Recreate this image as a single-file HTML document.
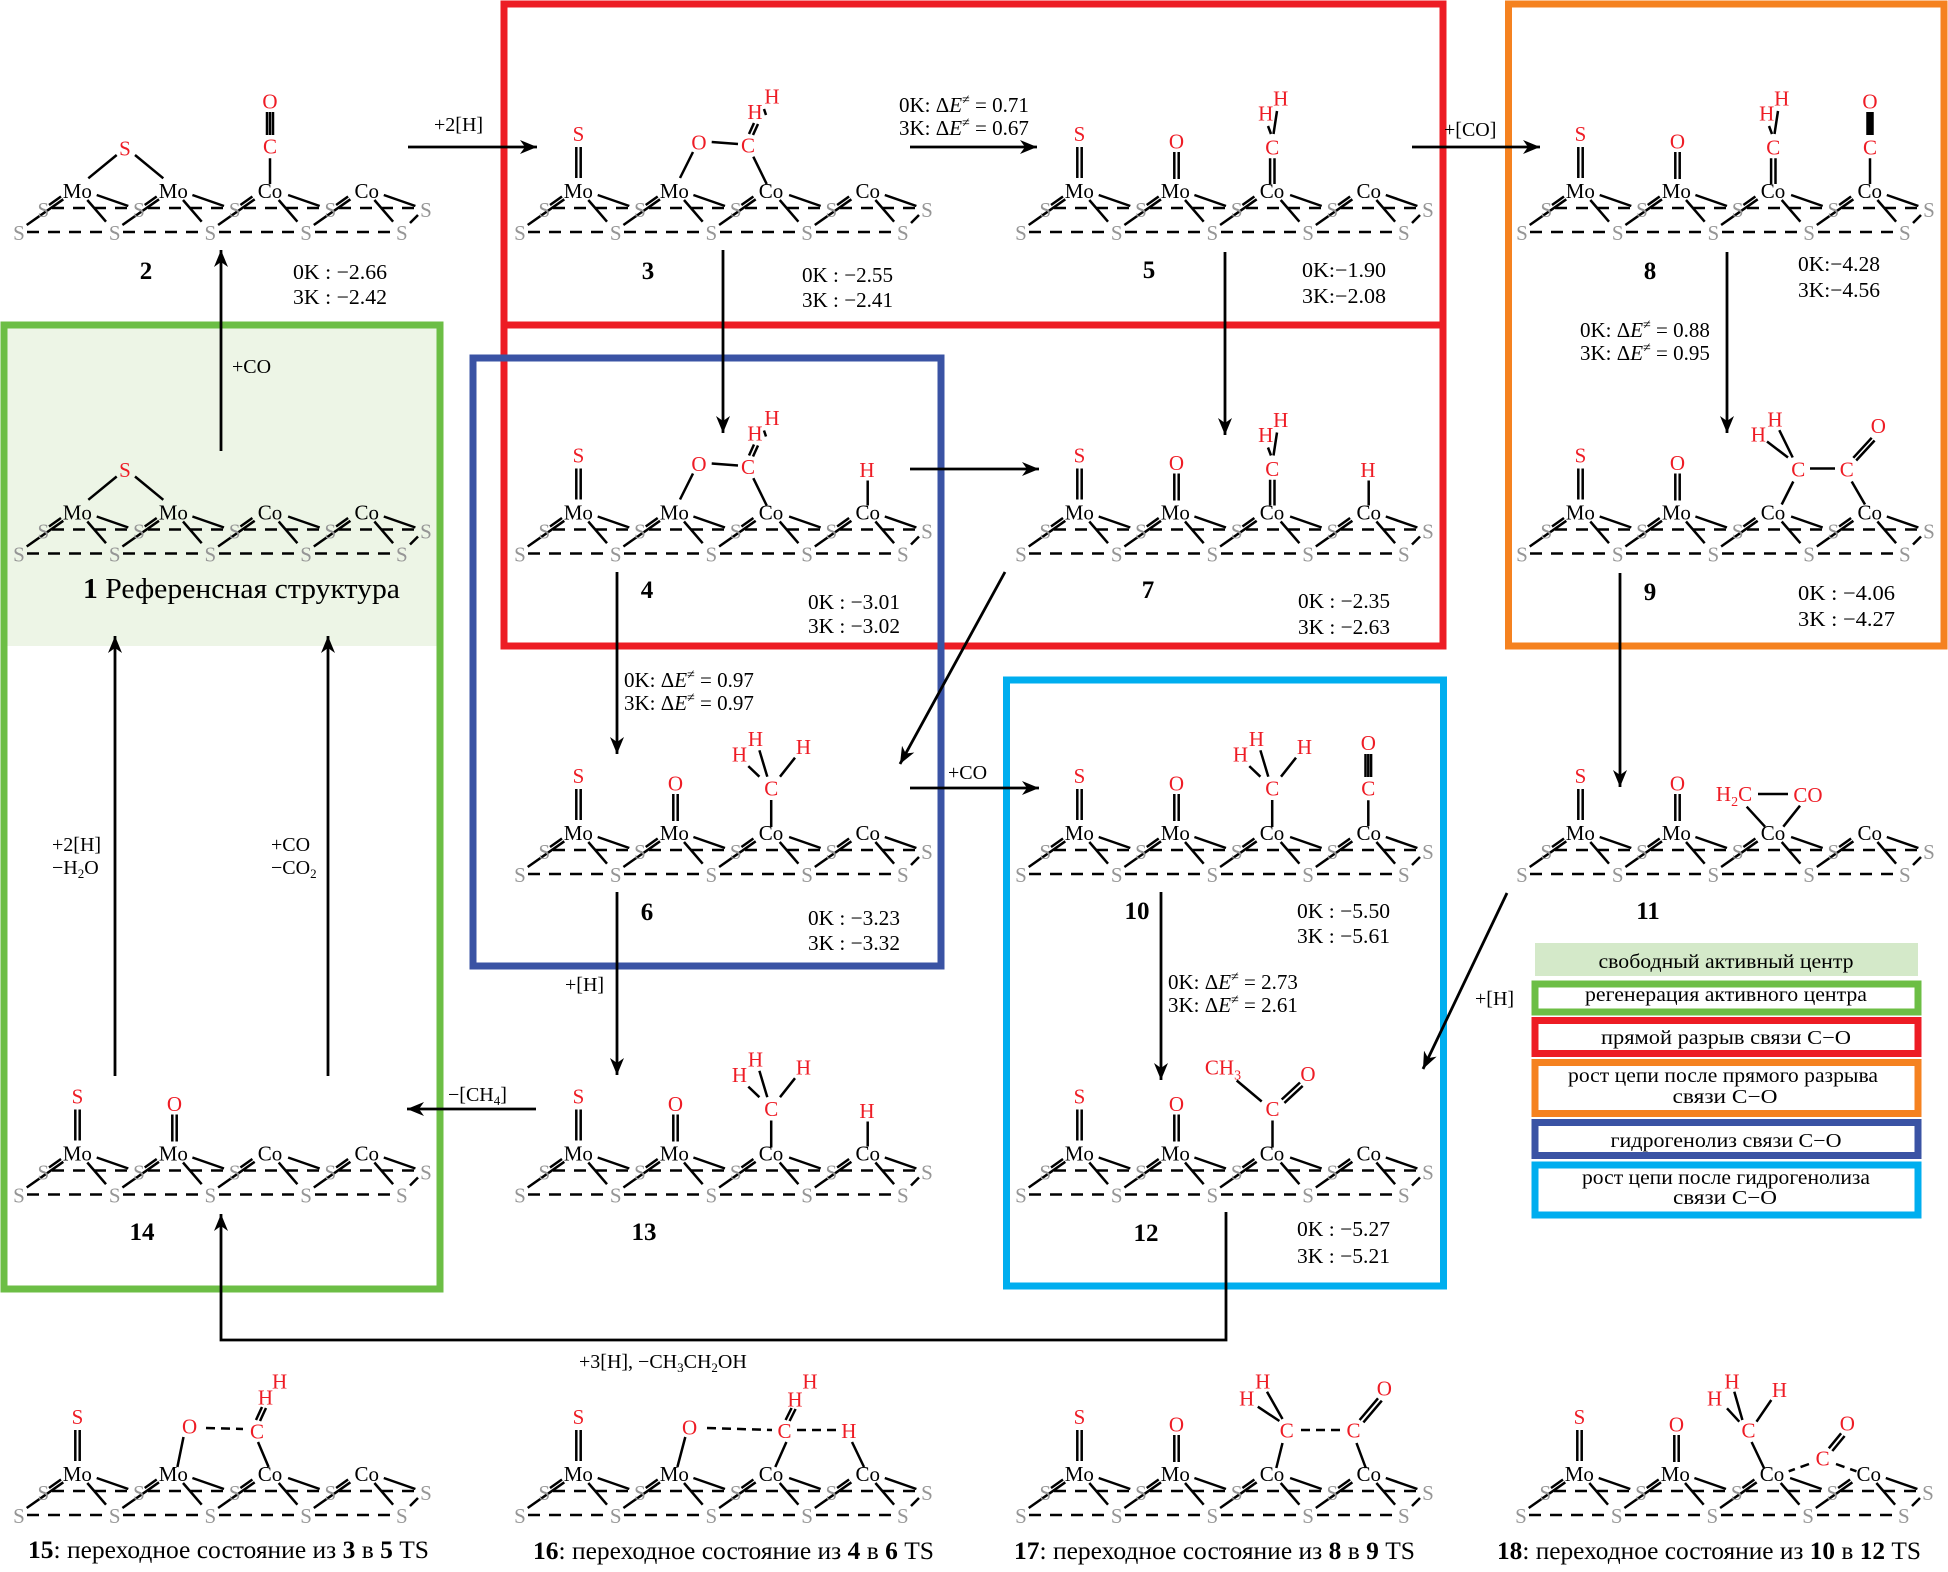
<!DOCTYPE html>
<html><head><meta charset="utf-8">
<style>
html,body{margin:0;padding:0;background:#fff;}
svg{display:block;font-family:"Liberation Serif","DejaVu Serif",serif;}
.b{stroke:#000;stroke-width:2.5;fill:none;}
.d{stroke:#000;stroke-width:2.6;fill:none;stroke-dasharray:12 9;}
.dd{stroke:#000;stroke-width:2.5;fill:none;stroke-dasharray:9 6;}
svg text{font-family:"Liberation Serif","DejaVu Serif",serif;}
.g{fill:#959595;font-size:21px;text-anchor:middle;}
.m{fill:#000;font-size:21px;text-anchor:middle;}
.r{fill:#ee1c25;font-size:21px;text-anchor:middle;}
.t{fill:#000;font-size:21px;}
.l{fill:#000;font-size:20px;}
.n{fill:#000;font-size:25px;font-weight:bold;text-anchor:middle;}
.lg{fill:#000;font-size:20px;text-anchor:middle;}
.bx{fill:none;stroke-width:7;}
</style></head><body>
<svg width="1948" height="1572" viewBox="0 0 1948 1572" xmlns="http://www.w3.org/2000/svg" font-family="'Liberation Serif', 'DejaVu Serif', serif">
<defs>
<marker id="a" markerUnits="userSpaceOnUse" markerWidth="20" markerHeight="16" refX="17" refY="8" orient="auto"><path d="M0 1L17 8L0 15L5 8Z" fill="#000" stroke="none"/></marker>
</defs>
<rect width="1948" height="1572" fill="#fff"/>
<rect x="7.5" y="328.5" width="429" height="317.5" fill="#edf5e6"/>

<!-- boxes -->
<rect class="bx" x="504" y="4" width="939" height="321" stroke="#ed1c24"/>
<rect class="bx" x="504" y="325" width="939" height="321" stroke="#ed1c24"/>
<rect class="bx" x="1508.5" y="4" width="435.5" height="642" stroke="#f58220"/>
<rect class="bx" x="4" y="325" width="436" height="964" stroke="#6cbe45"/>
<rect class="bx" x="473" y="358" width="468" height="608" stroke="#3a53a4"/>
<rect class="bx" x="1006.5" y="680" width="437" height="606" stroke="#00aeef"/>

<!-- legend -->
<rect x="1535" y="943" width="383" height="33" fill="#d4e9c9"/>
<rect x="1535" y="984" width="383" height="28" fill="#fff" stroke="#6cbe45" stroke-width="7"/>
<rect x="1535" y="1020.5" width="383" height="33" fill="#fff" stroke="#ed1c24" stroke-width="7"/>
<rect x="1535" y="1062.5" width="383" height="51" fill="#fff" stroke="#f58220" stroke-width="7"/>
<rect x="1535" y="1122.5" width="383" height="33" fill="#fff" stroke="#3a53a4" stroke-width="7"/>
<rect x="1535" y="1165" width="383" height="50" fill="#fff" stroke="#00aeef" stroke-width="7"/>
<text class="lg" x="1726" y="968" textLength="255" lengthAdjust="spacingAndGlyphs">свободный активный центр</text>
<text class="lg" x="1726" y="1001" textLength="282" lengthAdjust="spacingAndGlyphs">регенерация активного центра</text>
<text class="lg" x="1726" y="1044" textLength="250" lengthAdjust="spacingAndGlyphs">прямой разрыв связи  C−O</text>
<text class="lg" x="1723" y="1082" textLength="310" lengthAdjust="spacingAndGlyphs">рост цепи после прямого разрыва</text>
<text class="lg" x="1725" y="1103" textLength="105" lengthAdjust="spacingAndGlyphs">связи  C−O</text>
<text class="lg" x="1726" y="1147" textLength="231" lengthAdjust="spacingAndGlyphs">гидрогенолиз связи C−O</text>
<text class="lg" x="1726" y="1184" textLength="288" lengthAdjust="spacingAndGlyphs">рост цепи после гидрогенолиза</text>
<text class="lg" x="1725" y="1204" textLength="104" lengthAdjust="spacingAndGlyphs">связи  C−O</text>

<!-- ===== Row 1 ===== -->
<!-- 2 -->
<g transform="translate(19,240)">
<path class="b" d="M7.7 -15L44.3 -40.7M30 -35L42 -43.5M68.3 -40L87 -18.3M77.7 -45L109.3 -34M103.4 -15L140 -40.7M125.7 -35L137.7 -43.5M164 -40L182.7 -18.3M173.4 -45L205 -34M199.1 -15L235.7 -40.7M221.4 -35L233.4 -43.5M259.7 -40L278.4 -18.3M269.1 -45L300.7 -34M294.8 -15L331.4 -40.7M317.1 -35L329.1 -43.5M355.4 -40L374.1 -18.3M364.8 -45L396.4 -34M399 -25L391 -17"/>
<path class="d" d="M8 -8H88M104 -8H184M200 -8H280M296 -8H375M33 -32H112M129 -32H207M225 -32H303M320 -32H398"/>
<text class="g" x="0 95.7 191.4 287.1 382.8" y="0">SSSSS</text>
<text class="g" x="24.3 120 215.7 311.4 407" y="-23">SSSSS</text>
<text class="m" x="58.3" y="-42">Mo</text><text class="m" x="154.3" y="-42">Mo</text><text class="m" x="251" y="-42">Co</text><text class="m" x="347.7" y="-42">Co</text>
<path class="b" d="M69.3 -61.7L97.7 -85M116 -85L144.3 -61.7"/><text class="r" x="106" y="-84.7">S</text>
<path class="b" d="M248 -128V-105M251 -128V-105M254 -128V-105M251 -81.7V-56"/><text class="r" x="251" y="-86.3">C</text><text class="r" x="251" y="-131.3">O</text>
</g>
<!-- 3 -->
<g transform="translate(520,240)">
<path class="b" d="M7.7 -15L44.3 -40.7M30 -35L42 -43.5M68.3 -40L87 -18.3M77.7 -45L109.3 -34M103.4 -15L140 -40.7M125.7 -35L137.7 -43.5M164 -40L182.7 -18.3M173.4 -45L205 -34M199.1 -15L235.7 -40.7M221.4 -35L233.4 -43.5M259.7 -40L278.4 -18.3M269.1 -45L300.7 -34M294.8 -15L331.4 -40.7M317.1 -35L329.1 -43.5M355.4 -40L374.1 -18.3M364.8 -45L396.4 -34M399 -25L391 -17"/>
<path class="d" d="M8 -8H88M104 -8H184M200 -8H280M296 -8H375M33 -32H112M129 -32H207M225 -32H303M320 -32H398"/>
<text class="g" x="0 95.7 191.4 287.1 382.8" y="0">SSSSS</text>
<text class="g" x="24.3 120 215.7 311.4 407" y="-23">SSSSS</text>
<text class="m" x="58.3" y="-42">Mo</text><text class="m" x="154.3" y="-42">Mo</text><text class="m" x="251" y="-42">Co</text><text class="m" x="347.7" y="-42">Co</text>
<path class="b" d="M56.3 -93V-62M60.7 -93V-62"/><text class="r" x="58.5" y="-99">S</text>
<path class="b" d="M173 -88L160 -62M191.7 -98L218 -96M233.3 -83.3L246.7 -56M229 -106L234 -117M233 -105L238 -116M244 -131L246 -125"/>
<text class="r" x="179" y="-90.7">O</text><text class="r" x="228" y="-87.7">C</text><text class="r" x="235" y="-121">H</text><text class="r" x="252" y="-136.7">H</text>
</g>
<!-- 5 -->
<g transform="translate(1021,240)">
<path class="b" d="M7.7 -15L44.3 -40.7M30 -35L42 -43.5M68.3 -40L87 -18.3M77.7 -45L109.3 -34M103.4 -15L140 -40.7M125.7 -35L137.7 -43.5M164 -40L182.7 -18.3M173.4 -45L205 -34M199.1 -15L235.7 -40.7M221.4 -35L233.4 -43.5M259.7 -40L278.4 -18.3M269.1 -45L300.7 -34M294.8 -15L331.4 -40.7M317.1 -35L329.1 -43.5M355.4 -40L374.1 -18.3M364.8 -45L396.4 -34M399 -25L391 -17"/>
<path class="d" d="M8 -8H88M104 -8H184M200 -8H280M296 -8H375M33 -32H112M129 -32H207M225 -32H303M320 -32H398"/>
<text class="g" x="0 95.7 191.4 287.1 382.8" y="0">SSSSS</text>
<text class="g" x="24.3 120 215.7 311.4 407" y="-23">SSSSS</text>
<text class="m" x="58.3" y="-42">Mo</text><text class="m" x="154.3" y="-42">Mo</text><text class="m" x="251" y="-42">Co</text><text class="m" x="347.7" y="-42">Co</text>
<path class="b" d="M56.3 -93V-62M60.7 -93V-62"/><text class="r" x="58.5" y="-99">S</text>
<path class="b" d="M153.3 -88V-61M157.7 -88V-61"/><text class="r" x="155.5" y="-91.5">O</text>
<path class="b" d="M249.1 -81.7V-56M253.5 -81.7V-56M256 -129L252.5 -106M247 -114L250 -106"/>
<text class="r" x="251.3" y="-85.7">C</text><text class="r" x="244.7" y="-119.7">H</text><text class="r" x="259.7" y="-134.7">H</text>
</g>
<!-- 8 -->
<g transform="translate(1522,240)">
<path class="b" d="M7.7 -15L44.3 -40.7M30 -35L42 -43.5M68.3 -40L87 -18.3M77.7 -45L109.3 -34M103.4 -15L140 -40.7M125.7 -35L137.7 -43.5M164 -40L182.7 -18.3M173.4 -45L205 -34M199.1 -15L235.7 -40.7M221.4 -35L233.4 -43.5M259.7 -40L278.4 -18.3M269.1 -45L300.7 -34M294.8 -15L331.4 -40.7M317.1 -35L329.1 -43.5M355.4 -40L374.1 -18.3M364.8 -45L396.4 -34M399 -25L391 -17"/>
<path class="d" d="M8 -8H88M104 -8H184M200 -8H280M296 -8H375M33 -32H112M129 -32H207M225 -32H303M320 -32H398"/>
<text class="g" x="0 95.7 191.4 287.1 382.8" y="0">SSSSS</text>
<text class="g" x="24.3 120 215.7 311.4 407" y="-23">SSSSS</text>
<text class="m" x="58.3" y="-42">Mo</text><text class="m" x="154.3" y="-42">Mo</text><text class="m" x="251" y="-42">Co</text><text class="m" x="347.7" y="-42">Co</text>
<path class="b" d="M56.3 -93V-62M60.7 -93V-62"/><text class="r" x="58.5" y="-99">S</text>
<path class="b" d="M153.3 -88V-61M157.7 -88V-61"/><text class="r" x="155.5" y="-91.5">O</text>
<path class="b" d="M249.1 -81.7V-56M253.5 -81.7V-56M256 -129L252.5 -106M247 -114L250 -106"/>
<text class="r" x="251.3" y="-85.7">C</text><text class="r" x="244.7" y="-119.7">H</text><text class="r" x="259.7" y="-134.7">H</text>
<path class="b" d="M345.5 -128V-105M348 -128V-105M350.5 -128V-105M348 -81.7V-56"/><text class="r" x="348" y="-85.7">C</text><text class="r" x="348" y="-131.3">O</text>
</g>

<!-- ===== Row 2 ===== -->
<!-- 1 -->
<g transform="translate(19,561.5)">
<path class="b" d="M7.7 -15L44.3 -40.7M30 -35L42 -43.5M68.3 -40L87 -18.3M77.7 -45L109.3 -34M103.4 -15L140 -40.7M125.7 -35L137.7 -43.5M164 -40L182.7 -18.3M173.4 -45L205 -34M199.1 -15L235.7 -40.7M221.4 -35L233.4 -43.5M259.7 -40L278.4 -18.3M269.1 -45L300.7 -34M294.8 -15L331.4 -40.7M317.1 -35L329.1 -43.5M355.4 -40L374.1 -18.3M364.8 -45L396.4 -34M399 -25L391 -17"/>
<path class="d" d="M8 -8H88M104 -8H184M200 -8H280M296 -8H375M33 -32H112M129 -32H207M225 -32H303M320 -32H398"/>
<text class="g" x="0 95.7 191.4 287.1 382.8" y="0">SSSSS</text>
<text class="g" x="24.3 120 215.7 311.4 407" y="-23">SSSSS</text>
<text class="m" x="58.3" y="-42">Mo</text><text class="m" x="154.3" y="-42">Mo</text><text class="m" x="251" y="-42">Co</text><text class="m" x="347.7" y="-42">Co</text>
<path class="b" d="M69.3 -61.7L97.7 -85M116 -85L144.3 -61.7"/><text class="r" x="106" y="-84.7">S</text>
</g>
<!-- 4 -->
<g transform="translate(520,561.5)">
<path class="b" d="M7.7 -15L44.3 -40.7M30 -35L42 -43.5M68.3 -40L87 -18.3M77.7 -45L109.3 -34M103.4 -15L140 -40.7M125.7 -35L137.7 -43.5M164 -40L182.7 -18.3M173.4 -45L205 -34M199.1 -15L235.7 -40.7M221.4 -35L233.4 -43.5M259.7 -40L278.4 -18.3M269.1 -45L300.7 -34M294.8 -15L331.4 -40.7M317.1 -35L329.1 -43.5M355.4 -40L374.1 -18.3M364.8 -45L396.4 -34M399 -25L391 -17"/>
<path class="d" d="M8 -8H88M104 -8H184M200 -8H280M296 -8H375M33 -32H112M129 -32H207M225 -32H303M320 -32H398"/>
<text class="g" x="0 95.7 191.4 287.1 382.8" y="0">SSSSS</text>
<text class="g" x="24.3 120 215.7 311.4 407" y="-23">SSSSS</text>
<text class="m" x="58.3" y="-42">Mo</text><text class="m" x="154.3" y="-42">Mo</text><text class="m" x="251" y="-42">Co</text><text class="m" x="347.7" y="-42">Co</text>
<path class="b" d="M56.3 -93V-62M60.7 -93V-62"/><text class="r" x="58.5" y="-99">S</text>
<path class="b" d="M173 -88L160 -62M191.7 -98L218 -96M233.3 -83.3L246.7 -56M229 -106L234 -117M233 -105L238 -116M244 -131L246 -125"/>
<text class="r" x="179" y="-90.7">O</text><text class="r" x="228" y="-87.7">C</text><text class="r" x="235" y="-121">H</text><text class="r" x="252" y="-136.7">H</text>
<path class="b" d="M347.7 -81V-56"/><text class="r" x="347" y="-84.6">H</text>
</g>
<!-- 7 -->
<g transform="translate(1021,561.5)">
<path class="b" d="M7.7 -15L44.3 -40.7M30 -35L42 -43.5M68.3 -40L87 -18.3M77.7 -45L109.3 -34M103.4 -15L140 -40.7M125.7 -35L137.7 -43.5M164 -40L182.7 -18.3M173.4 -45L205 -34M199.1 -15L235.7 -40.7M221.4 -35L233.4 -43.5M259.7 -40L278.4 -18.3M269.1 -45L300.7 -34M294.8 -15L331.4 -40.7M317.1 -35L329.1 -43.5M355.4 -40L374.1 -18.3M364.8 -45L396.4 -34M399 -25L391 -17"/>
<path class="d" d="M8 -8H88M104 -8H184M200 -8H280M296 -8H375M33 -32H112M129 -32H207M225 -32H303M320 -32H398"/>
<text class="g" x="0 95.7 191.4 287.1 382.8" y="0">SSSSS</text>
<text class="g" x="24.3 120 215.7 311.4 407" y="-23">SSSSS</text>
<text class="m" x="58.3" y="-42">Mo</text><text class="m" x="154.3" y="-42">Mo</text><text class="m" x="251" y="-42">Co</text><text class="m" x="347.7" y="-42">Co</text>
<path class="b" d="M56.3 -93V-62M60.7 -93V-62"/><text class="r" x="58.5" y="-99">S</text>
<path class="b" d="M153.3 -88V-61M157.7 -88V-61"/><text class="r" x="155.5" y="-91.5">O</text>
<path class="b" d="M249.1 -81.7V-56M253.5 -81.7V-56M256 -129L252.5 -106M247 -114L250 -106"/>
<text class="r" x="251.3" y="-85.7">C</text><text class="r" x="244.7" y="-119.7">H</text><text class="r" x="259.7" y="-134.7">H</text>
<path class="b" d="M347.7 -81V-56"/><text class="r" x="347" y="-84.6">H</text>
</g>
<!-- 9 -->
<g transform="translate(1522,561.5)">
<path class="b" d="M7.7 -15L44.3 -40.7M30 -35L42 -43.5M68.3 -40L87 -18.3M77.7 -45L109.3 -34M103.4 -15L140 -40.7M125.7 -35L137.7 -43.5M164 -40L182.7 -18.3M173.4 -45L205 -34M199.1 -15L235.7 -40.7M221.4 -35L233.4 -43.5M259.7 -40L278.4 -18.3M269.1 -45L300.7 -34M294.8 -15L331.4 -40.7M317.1 -35L329.1 -43.5M355.4 -40L374.1 -18.3M364.8 -45L396.4 -34M399 -25L391 -17"/>
<path class="d" d="M8 -8H88M104 -8H184M200 -8H280M296 -8H375M33 -32H112M129 -32H207M225 -32H303M320 -32H398"/>
<text class="g" x="0 95.7 191.4 287.1 382.8" y="0">SSSSS</text>
<text class="g" x="24.3 120 215.7 311.4 407" y="-23">SSSSS</text>
<text class="m" x="58.3" y="-42">Mo</text><text class="m" x="154.3" y="-42">Mo</text><text class="m" x="251" y="-42">Co</text><text class="m" x="347.7" y="-42">Co</text>
<path class="b" d="M56.3 -93V-62M60.7 -93V-62"/><text class="r" x="58.5" y="-99">S</text>
<path class="b" d="M153.3 -88V-61M157.7 -88V-61"/><text class="r" x="155.5" y="-91.5">O</text>
<path class="b" d="M271.3 -80L259.7 -57M329.7 -80L343 -57M288 -93H313M331.3 -103.7L349.7 -123.7M334.2 -101L352.6 -121M257.3 -131.3L270.7 -104M245 -120L266 -104"/>
<text class="r" x="276.3" y="-85">C</text><text class="r" x="324.7" y="-85">C</text><text class="r" x="356.3" y="-128.3">O</text><text class="r" x="236.3" y="-120">H</text><text class="r" x="253" y="-135">H</text>
</g>

<!-- ===== Row 3 ===== -->
<!-- 6 -->
<g transform="translate(520,882)">
<path class="b" d="M7.7 -15L44.3 -40.7M30 -35L42 -43.5M68.3 -40L87 -18.3M77.7 -45L109.3 -34M103.4 -15L140 -40.7M125.7 -35L137.7 -43.5M164 -40L182.7 -18.3M173.4 -45L205 -34M199.1 -15L235.7 -40.7M221.4 -35L233.4 -43.5M259.7 -40L278.4 -18.3M269.1 -45L300.7 -34M294.8 -15L331.4 -40.7M317.1 -35L329.1 -43.5M355.4 -40L374.1 -18.3M364.8 -45L396.4 -34M399 -25L391 -17"/>
<path class="d" d="M8 -8H88M104 -8H184M200 -8H280M296 -8H375M33 -32H112M129 -32H207M225 -32H303M320 -32H398"/>
<text class="g" x="0 95.7 191.4 287.1 382.8" y="0">SSSSS</text>
<text class="g" x="24.3 120 215.7 311.4 407" y="-23">SSSSS</text>
<text class="m" x="58.3" y="-42">Mo</text><text class="m" x="154.3" y="-42">Mo</text><text class="m" x="251" y="-42">Co</text><text class="m" x="347.7" y="-42">Co</text>
<path class="b" d="M56.3 -93V-62M60.7 -93V-62"/><text class="r" x="58.5" y="-99">S</text>
<path class="b" d="M153.3 -88V-61M157.7 -88V-61"/><text class="r" x="155.5" y="-91.5">O</text>
<path class="b" d="M251.2 -82V-55M239.4 -105.3L228.3 -115.9M247.3 -105.3L239.4 -131.7M260 -105.3L275 -124.3"/>
<text class="r" x="251.2" y="-86.6">C</text><text class="r" x="219.5" y="-120.6">H</text><text class="r" x="235.5" y="-136">H</text><text class="r" x="283.4" y="-128.2">H</text>
</g>
<!-- 10 -->
<g transform="translate(1021,882)">
<path class="b" d="M7.7 -15L44.3 -40.7M30 -35L42 -43.5M68.3 -40L87 -18.3M77.7 -45L109.3 -34M103.4 -15L140 -40.7M125.7 -35L137.7 -43.5M164 -40L182.7 -18.3M173.4 -45L205 -34M199.1 -15L235.7 -40.7M221.4 -35L233.4 -43.5M259.7 -40L278.4 -18.3M269.1 -45L300.7 -34M294.8 -15L331.4 -40.7M317.1 -35L329.1 -43.5M355.4 -40L374.1 -18.3M364.8 -45L396.4 -34M399 -25L391 -17"/>
<path class="d" d="M8 -8H88M104 -8H184M200 -8H280M296 -8H375M33 -32H112M129 -32H207M225 -32H303M320 -32H398"/>
<text class="g" x="0 95.7 191.4 287.1 382.8" y="0">SSSSS</text>
<text class="g" x="24.3 120 215.7 311.4 407" y="-23">SSSSS</text>
<text class="m" x="58.3" y="-42">Mo</text><text class="m" x="154.3" y="-42">Mo</text><text class="m" x="251" y="-42">Co</text><text class="m" x="347.7" y="-42">Co</text>
<path class="b" d="M56.3 -93V-62M60.7 -93V-62"/><text class="r" x="58.5" y="-99">S</text>
<path class="b" d="M153.3 -88V-61M157.7 -88V-61"/><text class="r" x="155.5" y="-91.5">O</text>
<path class="b" d="M251.2 -82V-55M239.4 -105.3L228.3 -115.9M247.3 -105.3L239.4 -131.7M260 -105.3L275 -124.3"/>
<text class="r" x="251.2" y="-86.6">C</text><text class="r" x="219.5" y="-120.6">H</text><text class="r" x="235.5" y="-136">H</text><text class="r" x="283.4" y="-128.2">H</text>
<path class="b" d="M344.5 -128V-105M347.3 -128V-105M350.1 -128V-105M347.3 -81.7V-56"/><text class="r" x="347.3" y="-86.4">C</text><text class="r" x="347.3" y="-132">O</text>
</g>
<!-- 11 -->
<g transform="translate(1522,882)">
<path class="b" d="M7.7 -15L44.3 -40.7M30 -35L42 -43.5M68.3 -40L87 -18.3M77.7 -45L109.3 -34M103.4 -15L140 -40.7M125.7 -35L137.7 -43.5M164 -40L182.7 -18.3M173.4 -45L205 -34M199.1 -15L235.7 -40.7M221.4 -35L233.4 -43.5M259.7 -40L278.4 -18.3M269.1 -45L300.7 -34M294.8 -15L331.4 -40.7M317.1 -35L329.1 -43.5M355.4 -40L374.1 -18.3M364.8 -45L396.4 -34M399 -25L391 -17"/>
<path class="d" d="M8 -8H88M104 -8H184M200 -8H280M296 -8H375M33 -32H112M129 -32H207M225 -32H303M320 -32H398"/>
<text class="g" x="0 95.7 191.4 287.1 382.8" y="0">SSSSS</text>
<text class="g" x="24.3 120 215.7 311.4 407" y="-23">SSSSS</text>
<text class="m" x="58.3" y="-42">Mo</text><text class="m" x="154.3" y="-42">Mo</text><text class="m" x="251" y="-42">Co</text><text class="m" x="347.7" y="-42">Co</text>
<path class="b" d="M56.3 -93V-62M60.7 -93V-62"/><text class="r" x="58.5" y="-99">S</text>
<path class="b" d="M153.3 -88V-61M157.7 -88V-61"/><text class="r" x="155.5" y="-91.5">O</text>
<path class="b" d="M236 -88H266M224.7 -75.3L243 -55.3M278 -76.3L261.3 -55.3"/>
<text class="r" x="212" y="-81">H<tspan font-size="14" dy="5">2</tspan><tspan dy="-5">C</tspan></text>
<text class="r" x="286" y="-80">CO</text>
</g>

<!-- ===== Row 4 ===== -->
<!-- 14 -->
<g transform="translate(19,1202.5)">
<path class="b" d="M7.7 -15L44.3 -40.7M30 -35L42 -43.5M68.3 -40L87 -18.3M77.7 -45L109.3 -34M103.4 -15L140 -40.7M125.7 -35L137.7 -43.5M164 -40L182.7 -18.3M173.4 -45L205 -34M199.1 -15L235.7 -40.7M221.4 -35L233.4 -43.5M259.7 -40L278.4 -18.3M269.1 -45L300.7 -34M294.8 -15L331.4 -40.7M317.1 -35L329.1 -43.5M355.4 -40L374.1 -18.3M364.8 -45L396.4 -34M399 -25L391 -17"/>
<path class="d" d="M8 -8H88M104 -8H184M200 -8H280M296 -8H375M33 -32H112M129 -32H207M225 -32H303M320 -32H398"/>
<text class="g" x="0 95.7 191.4 287.1 382.8" y="0">SSSSS</text>
<text class="g" x="24.3 120 215.7 311.4 407" y="-23">SSSSS</text>
<text class="m" x="58.3" y="-42">Mo</text><text class="m" x="154.3" y="-42">Mo</text><text class="m" x="251" y="-42">Co</text><text class="m" x="347.7" y="-42">Co</text>
<path class="b" d="M56.3 -93V-62M60.7 -93V-62"/><text class="r" x="58.5" y="-99">S</text>
<path class="b" d="M153.3 -88V-61M157.7 -88V-61"/><text class="r" x="155.5" y="-91.5">O</text>
</g>
<!-- 13 -->
<g transform="translate(520,1202.5)">
<path class="b" d="M7.7 -15L44.3 -40.7M30 -35L42 -43.5M68.3 -40L87 -18.3M77.7 -45L109.3 -34M103.4 -15L140 -40.7M125.7 -35L137.7 -43.5M164 -40L182.7 -18.3M173.4 -45L205 -34M199.1 -15L235.7 -40.7M221.4 -35L233.4 -43.5M259.7 -40L278.4 -18.3M269.1 -45L300.7 -34M294.8 -15L331.4 -40.7M317.1 -35L329.1 -43.5M355.4 -40L374.1 -18.3M364.8 -45L396.4 -34M399 -25L391 -17"/>
<path class="d" d="M8 -8H88M104 -8H184M200 -8H280M296 -8H375M33 -32H112M129 -32H207M225 -32H303M320 -32H398"/>
<text class="g" x="0 95.7 191.4 287.1 382.8" y="0">SSSSS</text>
<text class="g" x="24.3 120 215.7 311.4 407" y="-23">SSSSS</text>
<text class="m" x="58.3" y="-42">Mo</text><text class="m" x="154.3" y="-42">Mo</text><text class="m" x="251" y="-42">Co</text><text class="m" x="347.7" y="-42">Co</text>
<path class="b" d="M56.3 -93V-62M60.7 -93V-62"/><text class="r" x="58.5" y="-99">S</text>
<path class="b" d="M153.3 -88V-61M157.7 -88V-61"/><text class="r" x="155.5" y="-91.5">O</text>
<path class="b" d="M251.2 -82V-55M239.4 -105.3L228.3 -115.9M247.3 -105.3L239.4 -131.7M260 -105.3L275 -124.3"/>
<text class="r" x="251.2" y="-86.6">C</text><text class="r" x="219.5" y="-120.6">H</text><text class="r" x="235.5" y="-136">H</text><text class="r" x="283.4" y="-128.2">H</text>
<path class="b" d="M347.7 -81V-56"/><text class="r" x="347" y="-84.6">H</text>
</g>
<!-- 12 -->
<g transform="translate(1021,1202.5)">
<path class="b" d="M7.7 -15L44.3 -40.7M30 -35L42 -43.5M68.3 -40L87 -18.3M77.7 -45L109.3 -34M103.4 -15L140 -40.7M125.7 -35L137.7 -43.5M164 -40L182.7 -18.3M173.4 -45L205 -34M199.1 -15L235.7 -40.7M221.4 -35L233.4 -43.5M259.7 -40L278.4 -18.3M269.1 -45L300.7 -34M294.8 -15L331.4 -40.7M317.1 -35L329.1 -43.5M355.4 -40L374.1 -18.3M364.8 -45L396.4 -34M399 -25L391 -17"/>
<path class="d" d="M8 -8H88M104 -8H184M200 -8H280M296 -8H375M33 -32H112M129 -32H207M225 -32H303M320 -32H398"/>
<text class="g" x="0 95.7 191.4 287.1 382.8" y="0">SSSSS</text>
<text class="g" x="24.3 120 215.7 311.4 407" y="-23">SSSSS</text>
<text class="m" x="58.3" y="-42">Mo</text><text class="m" x="154.3" y="-42">Mo</text><text class="m" x="251" y="-42">Co</text><text class="m" x="347.7" y="-42">Co</text>
<path class="b" d="M56.3 -93V-62M60.7 -93V-62"/><text class="r" x="58.5" y="-99">S</text>
<path class="b" d="M153.3 -88V-61M157.7 -88V-61"/><text class="r" x="155.5" y="-91.5">O</text>
<path class="b" d="M215.7 -122L240.7 -101M260.7 -103L279 -120M263.4 -99.6L281.7 -116.6M251.5 -82V-55"/>
<text class="r" x="202" y="-128">CH<tspan font-size="14" dy="5">3</tspan></text>
<text class="r" x="287" y="-121.5">O</text><text class="r" x="251.5" y="-86.6">C</text>
</g>

<!-- ===== Row 5 (TS) ===== -->
<!-- 15 -->
<g transform="translate(19,1523)">
<path class="b" d="M7.7 -15L44.3 -40.7M30 -35L42 -43.5M68.3 -40L87 -18.3M77.7 -45L109.3 -34M103.4 -15L140 -40.7M125.7 -35L137.7 -43.5M164 -40L182.7 -18.3M173.4 -45L205 -34M199.1 -15L235.7 -40.7M221.4 -35L233.4 -43.5M259.7 -40L278.4 -18.3M269.1 -45L300.7 -34M294.8 -15L331.4 -40.7M317.1 -35L329.1 -43.5M355.4 -40L374.1 -18.3M364.8 -45L396.4 -34M399 -25L391 -17"/>
<path class="d" d="M8 -8H88M104 -8H184M200 -8H280M296 -8H375M33 -32H112M129 -32H207M225 -32H303M320 -32H398"/>
<text class="g" x="0 95.7 191.4 287.1 382.8" y="0">SSSSS</text>
<text class="g" x="24.3 120 215.7 311.4 407" y="-23">SSSSS</text>
<text class="m" x="58.3" y="-42">Mo</text><text class="m" x="154.3" y="-42">Mo</text><text class="m" x="251" y="-42">Co</text><text class="m" x="347.7" y="-42">Co</text>
<path class="b" d="M56.3 -93V-62M60.7 -93V-62"/><text class="r" x="58.5" y="-99">S</text>
<path class="b" d="M164.5 -86L158.4 -56M239 -81L249.6 -56M237 -103L243 -116M241 -102L247 -115"/>
<path class="dd" d="M187 -95L224 -94"/>
<text class="r" x="170.6" y="-89.3">O</text><text class="r" x="238" y="-84.3">C</text><text class="r" x="246.5" y="-118.7">H</text><text class="r" x="260.6" y="-134.3">H</text>
</g>
<!-- 16 -->
<g transform="translate(520,1523)">
<path class="b" d="M7.7 -15L44.3 -40.7M30 -35L42 -43.5M68.3 -40L87 -18.3M77.7 -45L109.3 -34M103.4 -15L140 -40.7M125.7 -35L137.7 -43.5M164 -40L182.7 -18.3M173.4 -45L205 -34M199.1 -15L235.7 -40.7M221.4 -35L233.4 -43.5M259.7 -40L278.4 -18.3M269.1 -45L300.7 -34M294.8 -15L331.4 -40.7M317.1 -35L329.1 -43.5M355.4 -40L374.1 -18.3M364.8 -45L396.4 -34M399 -25L391 -17"/>
<path class="d" d="M8 -8H88M104 -8H184M200 -8H280M296 -8H375M33 -32H112M129 -32H207M225 -32H303M320 -32H398"/>
<text class="g" x="0 95.7 191.4 287.1 382.8" y="0">SSSSS</text>
<text class="g" x="24.3 120 215.7 311.4 407" y="-23">SSSSS</text>
<text class="m" x="58.3" y="-42">Mo</text><text class="m" x="154.3" y="-42">Mo</text><text class="m" x="251" y="-42">Co</text><text class="m" x="347.7" y="-42">Co</text>
<path class="b" d="M56.3 -93V-62M60.7 -93V-62"/><text class="r" x="58.5" y="-99">S</text>
<path class="b" d="M165.3 -86L157.4 -56M266.4 -81L255.3 -56M332 -81L344 -56M265.6 -103L271.6 -115M269.6 -102L275.6 -114"/>
<path class="dd" d="M187 -95L252 -93M277 -93H316"/>
<text class="r" x="169.6" y="-88.7">O</text><text class="r" x="264.5" y="-85">C</text><text class="r" x="328.8" y="-85">H</text><text class="r" x="275" y="-116.7">H</text><text class="r" x="290" y="-134.3">H</text>
</g>
<!-- 17 -->
<g transform="translate(1021,1523)">
<path class="b" d="M7.7 -15L44.3 -40.7M30 -35L42 -43.5M68.3 -40L87 -18.3M77.7 -45L109.3 -34M103.4 -15L140 -40.7M125.7 -35L137.7 -43.5M164 -40L182.7 -18.3M173.4 -45L205 -34M199.1 -15L235.7 -40.7M221.4 -35L233.4 -43.5M259.7 -40L278.4 -18.3M269.1 -45L300.7 -34M294.8 -15L331.4 -40.7M317.1 -35L329.1 -43.5M355.4 -40L374.1 -18.3M364.8 -45L396.4 -34M399 -25L391 -17"/>
<path class="d" d="M8 -8H88M104 -8H184M200 -8H280M296 -8H375M33 -32H112M129 -32H207M225 -32H303M320 -32H398"/>
<text class="g" x="0 95.7 191.4 287.1 382.8" y="0">SSSSS</text>
<text class="g" x="24.3 120 215.7 311.4 407" y="-23">SSSSS</text>
<text class="m" x="58.3" y="-42">Mo</text><text class="m" x="154.3" y="-42">Mo</text><text class="m" x="251" y="-42">Co</text><text class="m" x="347.7" y="-42">Co</text>
<path class="b" d="M56.3 -93V-62M60.7 -93V-62"/><text class="r" x="58.5" y="-99">S</text>
<path class="b" d="M153.3 -88V-61M157.7 -88V-61"/><text class="r" x="155.5" y="-91.5">O</text>
<path class="b" d="M261.5 -80L255.3 -55M335.5 -80L344.8 -55M338.6 -103L357 -124.7M342.4 -100.6L360.8 -122.3M236.8 -116.3L258.4 -102M246 -131.3L261.5 -104"/>
<path class="dd" d="M280 -93H320"/>
<text class="r" x="265.8" y="-85.3">C</text><text class="r" x="332.5" y="-85.3">C</text><text class="r" x="363.3" y="-127.7">O</text><text class="r" x="225.7" y="-117.7">H</text><text class="r" x="241.7" y="-134.3">H</text>
</g>
<!-- 18 -->
<g transform="translate(1521,1523)">
<path class="b" d="M7.7 -15L44.3 -40.7M30 -35L42 -43.5M68.3 -40L87 -18.3M77.7 -45L109.3 -34M103.4 -15L140 -40.7M125.7 -35L137.7 -43.5M164 -40L182.7 -18.3M173.4 -45L205 -34M199.1 -15L235.7 -40.7M221.4 -35L233.4 -43.5M259.7 -40L278.4 -18.3M269.1 -45L300.7 -34M294.8 -15L331.4 -40.7M317.1 -35L329.1 -43.5M355.4 -40L374.1 -18.3M364.8 -45L396.4 -34M399 -25L391 -17"/>
<path class="d" d="M8 -8H88M104 -8H184M200 -8H280M296 -8H375M33 -32H112M129 -32H207M225 -32H303M320 -32H398"/>
<text class="g" x="0 95.7 191.4 287.1 382.8" y="0">SSSSS</text>
<text class="g" x="24.3 120 215.7 311.4 407" y="-23">SSSSS</text>
<text class="m" x="58.3" y="-42">Mo</text><text class="m" x="154.3" y="-42">Mo</text><text class="m" x="251" y="-42">Co</text><text class="m" x="347.7" y="-42">Co</text>
<path class="b" d="M56.3 -93V-62M60.7 -93V-62"/><text class="r" x="58.5" y="-99">S</text>
<path class="b" d="M153.3 -88V-61M157.7 -88V-61"/><text class="r" x="155.5" y="-91.5">O</text>
<path class="b" d="M218.3 -101.3L206 -114.7M221.4 -103L213.3 -131.3M235.5 -101.3L250.3 -123M230.6 -81L243 -55M307.8 -74.7L320.1 -89.7M311.3 -72L323.6 -87"/>
<path class="dd" d="M288 -59L267.7 -51.7M315 -59L335.5 -51.7"/>
<text class="r" x="227.5" y="-85.3">C</text><text class="r" x="193.6" y="-117.7">H</text><text class="r" x="210.9" y="-134.3">H</text><text class="r" x="258.4" y="-126">H</text><text class="r" x="301.6" y="-57.7">C</text><text class="r" x="326.3" y="-92.7">O</text>
</g>

<!-- ===== arrows ===== -->
<g stroke="#000" stroke-width="2.8" fill="none" marker-end="url(#a)">
<path d="M408 147H537"/>
<path d="M910 147H1037"/>
<path d="M1412 147H1540"/>
<path d="M221 451V250"/>
<path d="M723 250V433"/>
<path d="M1225 252V435"/>
<path d="M1727 252V433"/>
<path d="M910 469H1039"/>
<path d="M617 572V754"/>
<path d="M1005 572L900 764"/>
<path d="M1620 573V787"/>
<path d="M910 788H1039"/>
<path d="M1161 892V1080"/>
<path d="M1507 893L1423 1069"/>
<path d="M617 892V1075"/>
<path d="M536 1109H407"/>
<path d="M115 1076V636"/>
<path d="M328 1076V636"/>
<path d="M1226 1212V1340H221V1214"/>
</g>

<!-- ===== arrow labels ===== -->
<text class="l" x="434" y="131">+2[H]</text>
<text class="t" x="899" y="112">0K: Δ<tspan font-style="italic">E</tspan><tspan font-size="14" dy="-8">≠</tspan><tspan dy="8"> = 0.71</tspan></text>
<text class="t" x="899" y="135">3K: Δ<tspan font-style="italic">E</tspan><tspan font-size="14" dy="-8">≠</tspan><tspan dy="8"> = 0.67</tspan></text>
<text class="l" x="1444" y="136">+[CO]</text>
<text class="l" x="232" y="373">+CO</text>
<text class="t" x="1580" y="337">0K: Δ<tspan font-style="italic">E</tspan><tspan font-size="14" dy="-8">≠</tspan><tspan dy="8"> = 0.88</tspan></text>
<text class="t" x="1580" y="360">3K: Δ<tspan font-style="italic">E</tspan><tspan font-size="14" dy="-8">≠</tspan><tspan dy="8"> = 0.95</tspan></text>
<text class="t" x="624" y="687">0K: Δ<tspan font-style="italic">E</tspan><tspan font-size="14" dy="-8">≠</tspan><tspan dy="8"> = 0.97</tspan></text>
<text class="t" x="624" y="710">3K: Δ<tspan font-style="italic">E</tspan><tspan font-size="14" dy="-8">≠</tspan><tspan dy="8"> = 0.97</tspan></text>
<text class="l" x="948" y="779">+CO</text>
<text class="t" x="1168" y="989">0K: Δ<tspan font-style="italic">E</tspan><tspan font-size="14" dy="-8">≠</tspan><tspan dy="8"> = 2.73</tspan></text>
<text class="t" x="1168" y="1012">3K: Δ<tspan font-style="italic">E</tspan><tspan font-size="14" dy="-8">≠</tspan><tspan dy="8"> = 2.61</tspan></text>
<text class="l" x="565" y="991">+[H]</text>
<text class="l" x="1475" y="1005">+[H]</text>
<text class="l" x="448" y="1101">−[CH<tspan font-size="13" dy="4">4</tspan><tspan dy="-4">]</tspan></text>
<text class="l" x="52" y="851">+2[H]</text>
<text class="l" x="52" y="874">−H<tspan font-size="13" dy="4">2</tspan><tspan dy="-4">O</tspan></text>
<text class="l" x="271" y="851">+CO</text>
<text class="l" x="271" y="874">−CO<tspan font-size="13" dy="4">2</tspan></text>
<text class="l" x="579" y="1368">+3[H], −CH<tspan font-size="13" dy="4">3</tspan><tspan dy="-4">CH</tspan><tspan font-size="13" dy="4">2</tspan><tspan dy="-4">OH</tspan></text>

<!-- ===== structure numbers ===== -->
<text class="n" x="146" y="279">2</text>
<text class="n" x="648" y="279">3</text>
<text class="n" x="1149" y="278">5</text>
<text class="n" x="1650" y="279">8</text>
<text class="n" x="647" y="598">4</text>
<text class="n" x="1148" y="598">7</text>
<text class="n" x="1650" y="600">9</text>
<text class="n" x="647" y="920">6</text>
<text class="n" x="1137" y="919">10</text>
<text class="n" x="1648" y="919">11</text>
<text class="n" x="142" y="1240">14</text>
<text class="n" x="644" y="1240">13</text>
<text class="n" x="1146" y="1241">12</text>
<text x="83" y="598" font-size="28" textLength="317" lengthAdjust="spacingAndGlyphs"><tspan font-weight="bold">1</tspan> Референсная структура</text>

<!-- ===== energies ===== -->
<text class="t" x="293" y="279" textLength="94" lengthAdjust="spacingAndGlyphs">0K : −2.66</text>
<text class="t" x="293" y="304" textLength="94" lengthAdjust="spacingAndGlyphs">3K : −2.42</text>
<text class="t" x="802" y="282" textLength="91" lengthAdjust="spacingAndGlyphs">0K : −2.55</text>
<text class="t" x="802" y="307" textLength="91" lengthAdjust="spacingAndGlyphs">3K : −2.41</text>
<text class="t" x="1302" y="277" textLength="84" lengthAdjust="spacingAndGlyphs">0K:−1.90</text>
<text class="t" x="1302" y="303" textLength="84" lengthAdjust="spacingAndGlyphs">3K:−2.08</text>
<text class="t" x="1798" y="271" textLength="82" lengthAdjust="spacingAndGlyphs">0K:−4.28</text>
<text class="t" x="1798" y="297" textLength="82" lengthAdjust="spacingAndGlyphs">3K:−4.56</text>
<text class="t" x="808" y="609" textLength="92" lengthAdjust="spacingAndGlyphs">0K : −3.01</text>
<text class="t" x="808" y="633" textLength="92" lengthAdjust="spacingAndGlyphs">3K : −3.02</text>
<text class="t" x="1298" y="608" textLength="92" lengthAdjust="spacingAndGlyphs">0K : −2.35</text>
<text class="t" x="1298" y="634" textLength="92" lengthAdjust="spacingAndGlyphs">3K : −2.63</text>
<text class="t" x="1798" y="600" textLength="97" lengthAdjust="spacingAndGlyphs">0K : −4.06</text>
<text class="t" x="1798" y="626" textLength="97" lengthAdjust="spacingAndGlyphs">3K : −4.27</text>
<text class="t" x="808" y="925" textLength="92" lengthAdjust="spacingAndGlyphs">0K : −3.23</text>
<text class="t" x="808" y="950" textLength="92" lengthAdjust="spacingAndGlyphs">3K : −3.32</text>
<text class="t" x="1297" y="918" textLength="93" lengthAdjust="spacingAndGlyphs">0K : −5.50</text>
<text class="t" x="1297" y="943" textLength="93" lengthAdjust="spacingAndGlyphs">3K : −5.61</text>
<text class="t" x="1297" y="1236" textLength="93" lengthAdjust="spacingAndGlyphs">0K : −5.27</text>
<text class="t" x="1297" y="1263" textLength="93" lengthAdjust="spacingAndGlyphs">3K : −5.21</text>

<!-- ===== bottom captions ===== -->
<text x="28" y="1558" font-size="25" textLength="401" lengthAdjust="spacingAndGlyphs"><tspan font-weight="bold">15</tspan>: переходное состояние из <tspan font-weight="bold">3</tspan> в <tspan font-weight="bold">5</tspan> TS</text>
<text x="533" y="1559" font-size="25" textLength="401" lengthAdjust="spacingAndGlyphs"><tspan font-weight="bold">16</tspan>: переходное состояние из <tspan font-weight="bold">4</tspan> в <tspan font-weight="bold">6</tspan> TS</text>
<text x="1014" y="1559" font-size="25" textLength="401" lengthAdjust="spacingAndGlyphs"><tspan font-weight="bold">17</tspan>: переходное состояние из <tspan font-weight="bold">8</tspan> в <tspan font-weight="bold">9</tspan> TS</text>
<text x="1497" y="1559" font-size="25" textLength="424" lengthAdjust="spacingAndGlyphs"><tspan font-weight="bold">18</tspan>: переходное состояние из <tspan font-weight="bold">10</tspan> в <tspan font-weight="bold">12</tspan> TS</text>
</svg>
</body></html>
